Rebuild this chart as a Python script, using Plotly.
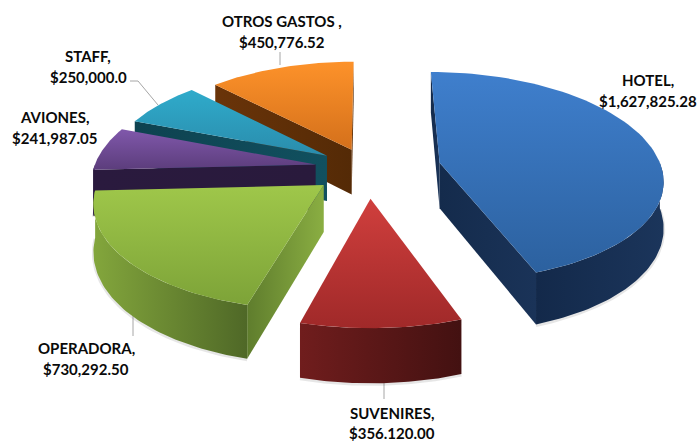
import math
import numpy as np
import plotly.graph_objects as go

# data
categories = ["HOTEL", "SUVENIRES", "OPERADORA", "AVIONES", "STAFF", "OTROS GASTOS"]
amounts = [1627825.28, 356120.00, 730292.50, 241987.05, 250000.0, 450776.52]
labels = [
    ("HOTEL,", "$1,627,825.28"),
    ("SUVENIRES,", "$356.120.00"),
    ("OPERADORA,", "$730,292.50"),
    ("AVIONES,", "$241,987.05"),
    ("STAFF,", "$250,000.0"),
    ("OTROS GASTOS ,", "$450,776.52"),
]

# style
pull = [0.33, 0.28, 0.25, 0.24, 0.225, 0.20]
top_colors = [("#2c619f", "#3f7fcd"), ("#a02929", "#d03f3d"), ("#7da338", "#9fc74a"),
              ("#5c3d7c", "#8058ab"), ("#2a8cac", "#2fabcb"), ("#d4701b", "#fd922a")]
wall_colors = [("#13294a", "#1b355b"), ("#701d1d", "#431111"), ("#83a63c", "#4f6827"),
               ("#2a1a3e", "#2a1a3e"), ("#0f4654", "#0f4654"), ("#5a2d07", "#7d410f")]
side_colors = [("#142b4c", "#1a3358"), ("#701d1d", "#431111"), ("#5f7d2d", "#8aae42"),
               ("#2a1a3e", "#291a3c"), ("#0e4250", "#11505f"), ("#6a3409", "#542a06")]
label_pos = [(648, 80), (392, 413), (86, 348), (54, 117), (88, 56), (282, 21)]
line_gap = [21, 20, 21, 21, 21, 21]
leaders = [[(280, 52), (280, 65)], [(130, 81), (138, 81), (158, 105)],
           [(133, 313), (133, 336)], [(384, 378), (384, 399)]]

CX, CY = 368, 168.5
A, B, KX, KY, H = 222, 104, 0.14, 0.13, 46


def project(X, Y, drop=0.0):
    sx = 1 / (1 + KX * Y)
    sy = 1 / (1 + KY * Y)
    return CX + A * X * sx, CY - B * Y * sy + H * drop * sy


def poly(points, colors, kind):
    xs = [p[0] for p in points] + [points[0][0]]
    ys = [p[1] for p in points] + [points[0][1]]
    return go.Scatter(x=xs, y=ys, mode="lines", fill="toself", line=dict(width=0),
                      fillgradient=dict(type=kind, colorscale=[[0, colors[0]], [1, colors[1]]]),
                      hoverinfo="skip", showlegend=False)


fractions = np.array(amounts) / sum(amounts)
ends = np.cumsum(fractions) * 2 * math.pi
starts = ends - fractions * 2 * math.pi
shadow_traces, slices = [], []

for i in range(len(amounts)):
    a0, a1 = starts[i], ends[i]
    mid = (a0 + a1) / 2
    ox, oy = pull[i] * math.sin(mid), pull[i] * math.cos(mid)
    rim = [(ox + math.sin(t), oy + math.cos(t)) for t in np.linspace(a0, a1, 80)]
    traces = []

    # radial side walls, only the ones that face the viewer
    for ang, sign in ((a0, -1), (a1, 1)):
        nx, ny = math.sin(ang + sign * math.pi / 2), math.cos(ang + sign * math.pi / 2)
        px, py = ox + 0.5 * math.sin(ang), oy + 0.5 * math.cos(ang)
        if nx * (0 - px) + ny * (-1 / KX - py) > 0:
            ex, ey = ox + math.sin(ang), oy + math.cos(ang)
            traces.append(poly([project(ox, oy), project(ex, ey), project(ex, ey, 1), project(ox, oy, 1)],
                               side_colors[i], "horizontal"))

    # outer wall on the front part of the rim
    lo, hi = max(a0, math.pi / 2), min(a1, 3 * math.pi / 2)
    if hi > lo:
        arc = [(ox + math.sin(t), oy + math.cos(t)) for t in np.linspace(lo, hi, 60)]
        wall = [project(*p) for p in arc] + [project(*p, 1) for p in reversed(arc)]
        traces.append(poly(wall, wall_colors[i], "horizontal"))
        low = [project(*p, 1) for p in arc]
        shadow_traces.append(go.Scatter(x=[p[0] for p in low], y=[p[1] + 1 for p in low], mode="lines",
                                        line=dict(color="rgba(90,90,90,0.15)", width=3),
                                        hoverinfo="skip", showlegend=False))

    # top face
    top = [project(ox, oy)] + [project(*p) for p in rim]
    traces.append(poly(top, top_colors[i], "vertical"))
    slices.append((oy, traces))

fig = go.Figure()
fig.add_traces(shadow_traces)
for _, traces in sorted(slices, key=lambda item: -item[0]):
    fig.add_traces(traces)

shapes = []
for path in leaders:
    d = "M " + " L ".join(f"{x} {y}" for x, y in path)
    shapes.append(dict(type="path", path=d, line=dict(color="#a6a6a6", width=1), layer="below"))

annotations = []
for (l1, l2), (x, y), gap in zip(labels, label_pos, line_gap):
    for txt, yy in ((l1, y), (l2, y + gap)):
        annotations.append(dict(x=x, y=yy, text=txt, showarrow=False, xanchor="center", yanchor="middle",
                                borderpad=0,
                                font=dict(family="Lato", size=15, color="#0a0a0a", weight="bold")))

fig.update_layout(
    width=699, height=442, margin=dict(l=0, r=0, t=0, b=0),
    paper_bgcolor="white", plot_bgcolor="white", showlegend=False,
    xaxis=dict(range=[0, 699], visible=False, fixedrange=True),
    yaxis=dict(range=[442, 0], visible=False, fixedrange=True),
    shapes=shapes, annotations=annotations,
)
fig.write_html("out.html", config=dict(displayModeBar=False),
               post_script="document.body.style.margin='0';document.documentElement.style.overflow='hidden';")
